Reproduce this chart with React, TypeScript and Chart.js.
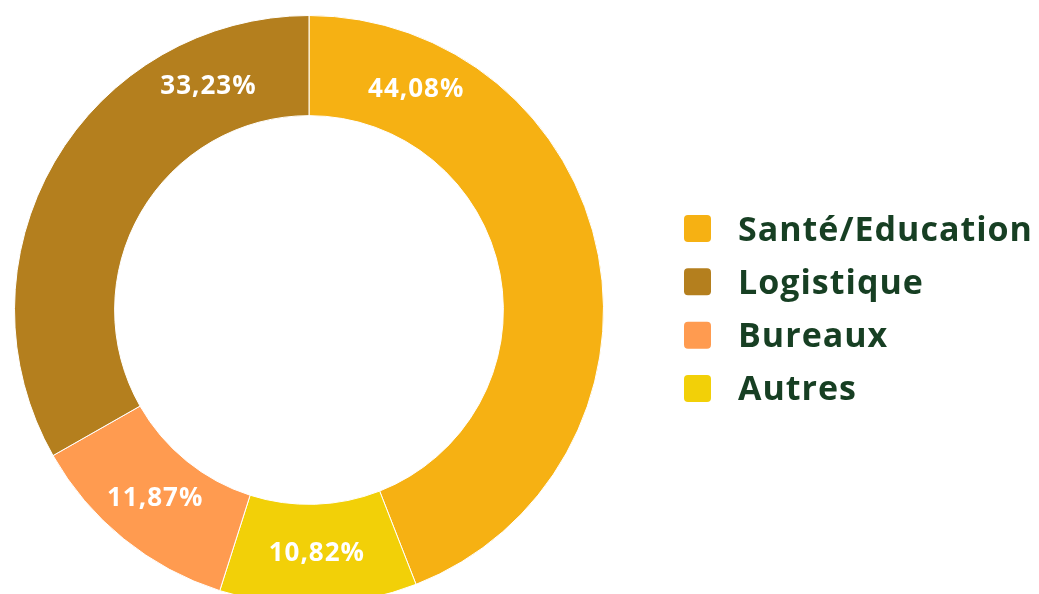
import React, { useEffect, useRef } from 'react';
import { Chart, registerables } from 'chart.js';

Chart.register(...registerables);

// Data (drawing order, clockwise from 12 o'clock)
const categories = ['Santé/Education', 'Autres', 'Bureaux', 'Logistique'];
const shares = [44.08, 10.82, 11.87, 33.23];
const colors = ['#F6B113', '#F2D008', '#FF9B50', '#B47F1E'];
// Legend order (indices into categories)
const legendOrder = [0, 3, 2, 1];

const FONT = '"Open Sans", "Noto Sans", sans-serif';

const fmt = (v: number) => v.toFixed(2).replace('.', ',') + '%';

const arcLabels = {
  id: 'arcLabels',
  afterDatasetsDraw(chart: any, _args: any, opts: any) {
    const meta = chart.getDatasetMeta(0);
    const ctx = chart.ctx;
    const values = chart.data.datasets[0].data as number[];
    ctx.save();
    ctx.font = opts.font;
    ctx.fillStyle = opts.color;
    ctx.textAlign = 'center';
    ctx.textBaseline = 'middle';
    (ctx as any).letterSpacing = opts.letterSpacing;
    meta.data.forEach((arc: any, i: number) => {
      const p = arc.getProps(['x', 'y', 'startAngle', 'endAngle', 'innerRadius', 'outerRadius'], true);
      const f = opts.angleFrac[i] ?? 0.5;
      const a = p.startAngle + (p.endAngle - p.startAngle) * f;
      const r = (p.innerRadius + p.outerRadius) / 2;
      ctx.fillText(fmt(values[i]), p.x + Math.cos(a) * r, p.y + Math.sin(a) * r + opts.dy);
    });
    ctx.restore();
  },
};

const sideLegend = {
  id: 'sideLegend',
  afterDraw(chart: any, _args: any, opts: any) {
    const ctx = chart.ctx;
    const area = chart.chartArea;
    const cy = (area.top + area.bottom) / 2 + opts.offsetY;
    const x0 = area.right + opts.gapX;
    const n = opts.order.length;
    ctx.save();
    ctx.font = opts.font;
    ctx.textAlign = 'left';
    ctx.textBaseline = 'alphabetic';
    (ctx as any).letterSpacing = opts.letterSpacing;
    opts.order.forEach((idx: number, k: number) => {
      const yc = cy + (k - (n - 1) / 2) * opts.spacing;
      ctx.fillStyle = chart.data.datasets[0].backgroundColor[idx];
      ctx.beginPath();
      ctx.roundRect(x0, yc - opts.box / 2, opts.box, opts.box, 4);
      ctx.fill();
      ctx.fillStyle = opts.color;
      ctx.fillText(chart.data.labels[idx], x0 + opts.box + opts.textGap, yc + opts.baselineShift);
    });
    ctx.restore();
  },
};

export default function App() {
  const ref = useRef<HTMLCanvasElement>(null);

  useEffect(() => {
    if (!ref.current) return;
    const chart = new Chart(ref.current, {
      type: 'doughnut',
      data: {
        labels: categories,
        datasets: [
          {
            data: shares,
            backgroundColor: colors,
            borderColor: '#ffffff',
            borderWidth: 1,
            hoverOffset: 0,
          },
        ],
      },
      options: {
        responsive: false,
        animation: false,
        cutout: '66%',
        layout: { padding: { left: 14, top: 15, right: 435, bottom: 15 } },
        plugins: {
          legend: { display: false },
          tooltip: { enabled: false },
          arcLabels: {
            font: `700 26px ${FONT}`,
            letterSpacing: '1px',
            color: '#ffffff',
            angleFrac: [0.164, 0.5, 0.5, 0.797],
            dy: -1,
          },
          sideLegend: {
            order: legendOrder,
            font: `700 34px ${FONT}`,
            letterSpacing: '1px',
            color: '#173F23',
            box: 27,
            gapX: 80,
            textGap: 27,
            spacing: 53.3,
            offsetY: -1.5,
            baselineShift: 12,
          },
        } as any,
      },
      plugins: [arcLabels, sideLegend],
    });
    return () => chart.destroy();
  }, []);

  return (
    <div style={{ position: 'fixed', left: 0, top: 0, width: 1039, height: 594, overflow: 'hidden', background: '#fff' }}>
      <canvas ref={ref} width={1039} height={620} style={{ display: 'block' }} />
    </div>
  );
}
